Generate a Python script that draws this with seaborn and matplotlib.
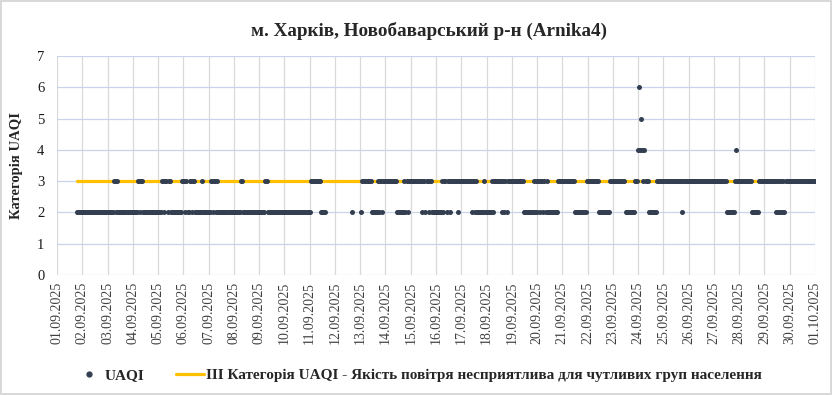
import numpy as np
import pandas as pd
import seaborn as sns
import matplotlib.pyplot as plt
import matplotlib.dates as mdates
from matplotlib.lines import Line2D

# Hourly UAQI category, one string per day from 01.09.2025 00:00
# ('.' = no measurement)
hourly_uaqi = [
    "...................22222",  # 01.09
    "222222222222222222222222",  # 02.09
    "222222332322222222222222",  # 03.09
    "222223323322222222222222",  # 04.09
    "222233233233222222222223",  # 05.09
    "332322332332222222322222",  # 06.09
    "223323323222222222222222",  # 07.09
    "222222233222222222222222",  # 08.09
    "222222332222222222222222",  # 09.09
    "222222222222222222222222",  # 10.09
    "2333333333322222........",  # 11.09
    "................2.......",  # 12.09
    ".23333333332222223233233",  # 13.09
    "333333333332222222323233",  # 14.09
    "333333333332332332332222",  # 15.09
    "222222323323323333333233",  # 16.09
    "333333333323323222222232",  # 17.09
    "222223233333333232323333",  # 18.09
    "333333333333222222222323",  # 19.09
    "233233232322222222223333",  # 20.09
    "333333333333222222222223",  # 21.09
    "333333333332222222222333",  # 22.09
    "333333333333222222222333",  # 23.09
    "464543433322222222333333",  # 24.09
    "333333333333333333233333",  # 25.09
    "333333333333333333333333",  # 26.09
    "333333333333222222223433",  # 27.09
    "333333333333222222233333",  # 28.09
    "333333333332323232323333",  # 29.09
    "333333333333333333333333",  # 30.09
    "3",                         # 01.10
]
start = pd.Timestamp('2025-09-01')
threshold = 3
uaqi_label = 'UAQI'
threshold_label = 'III Категорія UAQI - Якість повітря несприятлива для чутливих груп населення'
title = 'м. Харків, Новобаварський р-н (Arnika4)'

rows = []
for d, day in enumerate(hourly_uaqi):
    for h, c in enumerate(day):
        if c != '.':
            rows.append((start + pd.Timedelta(days=d, hours=h), int(c)))
df = pd.DataFrame(rows, columns=['time', 'uaqi'])
df_thr = pd.DataFrame({'time': [df['time'].min(), df['time'].max()],
                       'uaqi': [threshold, threshold]})

sns.set_style('white')
plt.rcParams['font.family'] = ['Liberation Serif', 'DejaVu Serif']

fig, ax = plt.subplots(figsize=(8.32, 3.95), dpi=100)
fig.subplots_adjust(left=0.0685, right=0.9796, top=0.858, bottom=0.3038)
fig.patch.set_edgecolor('#d9d9d9')
fig.patch.set_linewidth(1.5)

sns.lineplot(data=df_thr, x='time', y='uaqi', color='#ffc000', linewidth=2.3, ax=ax, zorder=2)
sns.scatterplot(data=df, x='time', y='uaqi', color='#333f50', s=13, linewidth=0, ax=ax, zorder=3)

ax.set_xlim(start, start + pd.Timedelta(days=30))
ax.set_ylim(0, 7)
ax.set_yticks(range(0, 8))
ax.xaxis.set_major_locator(mdates.DayLocator())
ax.xaxis.set_major_formatter(mdates.DateFormatter('%d.%m.%Y'))
ax.tick_params(axis='x', labelrotation=90, length=0, pad=5, labelsize=10, labelcolor='#404040')
ax.tick_params(axis='y', length=0, pad=9, labelsize=10.5, labelcolor='#1a1a1a')

ax.grid(axis='x', color='#d9d9d9', linewidth=0.9)
ax.grid(axis='y', color='#c9d3ea', linewidth=0.9)
ax.set_axisbelow(True)
for s in ax.spines.values():
    s.set_visible(False)

ax.set_xlabel('')
ax.set_ylabel('Категорія UAQI', fontsize=10.5, fontweight='bold', labelpad=10)
fig.suptitle(title, fontsize=13.8, fontweight='bold', x=0.516, y=0.922, va='center')

handles = [
    Line2D([], [], marker='o', linestyle='', color='#333f50', markersize=3.5),
    Line2D([], [], color='#ffc000', linewidth=2.3),
]
fig.legend(handles, [uaqi_label, threshold_label], loc='center', ncol=2,
           bbox_to_anchor=(0.503, 0.05), frameon=False, handlelength=1.8,
           handletextpad=0.15, columnspacing=2.1,
           prop={'weight': 'bold', 'size': 11})
if ax.get_legend():
    ax.get_legend().remove()

fig.savefig('out.png', dpi=100)
